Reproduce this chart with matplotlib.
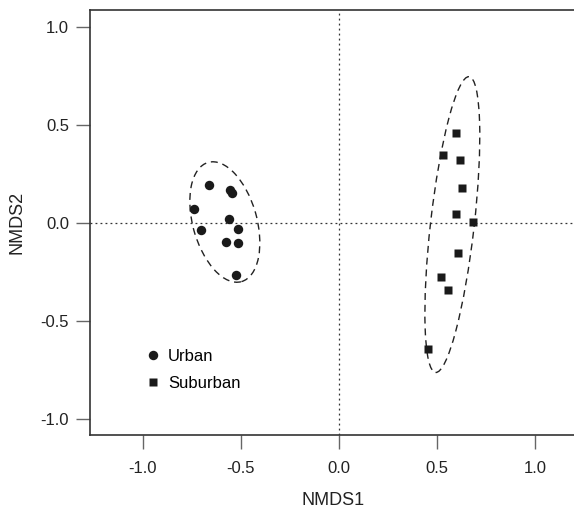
import matplotlib.pyplot as plt
from matplotlib.patches import Ellipse
from matplotlib.lines import Line2D

plt.rcParams['font.family'] = ['Liberation Sans', 'DejaVu Sans']

# NMDS scores
urban_x = [-0.663, -0.740, -0.704, -0.556, -0.546, -0.561, -0.577, -0.515, -0.515, -0.526]
urban_y = [0.193, 0.071, -0.036, 0.168, 0.153, 0.020, -0.097, -0.031, -0.102, -0.265]
suburban_x = [0.597, 0.531, 0.617, 0.628, 0.597, 0.684, 0.607, 0.520, 0.556, 0.454]
suburban_y = [0.458, 0.346, 0.321, 0.178, 0.046, 0.005, -0.153, -0.275, -0.341, -0.641]

# dispersion ellipses: centre x, centre y, width, height, angle
urban_ell = (-0.582, 0.005, 0.327, 0.630, 15.6)
suburban_ell = (0.579, -0.008, 0.223, 1.515, -6.5)

ticks = [-1.0, -0.5, 0.0, 0.5, 1.0]
tick_labels = ['-1.0', '-0.5', '0.0', '0.5', '1.0']

fig = plt.figure(figsize=(5.74, 5.12), dpi=100)
ax = fig.add_axes([90 / 574, 77 / 512, 486 / 574, 425 / 512])

ax.axhline(0, color='#333333', lw=0.9, ls=(0, (1.5, 2.5)), zorder=1)
ax.axvline(0, color='#333333', lw=0.9, ls=(0, (1.5, 2.5)), zorder=1)

ax.plot(urban_x, urban_y, 'o', color='#1a1a1a', ms=6.8, mec='none', zorder=3)
ax.plot(suburban_x, suburban_y, 's', color='#1a1a1a', ms=5.2, mec='none', zorder=3)

for cx, cy, w, h, ang in [urban_ell, suburban_ell]:
    ax.add_patch(Ellipse((cx, cy), w, h, angle=ang, fill=False,
                         ec='#222222', lw=1.0, ls=(0, (5, 3.5)), zorder=2))

ax.set_xlim(-1.27, 1.21)
ax.set_ylim(-1.079, 1.084)
ax.set_xticks(ticks)
ax.set_xticklabels(tick_labels)
ax.set_yticks(ticks)
ax.set_yticklabels(tick_labels)

ax.spines['right'].set_visible(False)
for s in ['left', 'bottom', 'top']:
    ax.spines[s].set_color('#333333')
    ax.spines[s].set_linewidth(1.2)
ax.tick_params(axis='both', direction='out', length=10, width=1.0,
               color='#666666', labelsize=12, labelcolor='#222222')
ax.tick_params(axis='x', pad=9)
ax.tick_params(axis='y', pad=5)

ax.set_xlabel('NMDS1', fontsize=13, color='#222222', labelpad=11)
ax.set_ylabel('NMDS2', fontsize=13, color='#222222', labelpad=11)

handles = [
    Line2D([], [], marker='o', ls='none', color='#1a1a1a', ms=6.8, mec='none'),
    Line2D([], [], marker='s', ls='none', color='#1a1a1a', ms=5.2, mec='none'),
]
ax.legend(handles, ['Urban', 'Suburban'], loc='upper left',
          bbox_to_anchor=(0.1125, 0.2035), frameon=False, fontsize=12,
          handletextpad=0.4, labelspacing=0.72, handlelength=1.0,
          borderpad=0, borderaxespad=0)

fig.savefig('out.png', dpi=100)
